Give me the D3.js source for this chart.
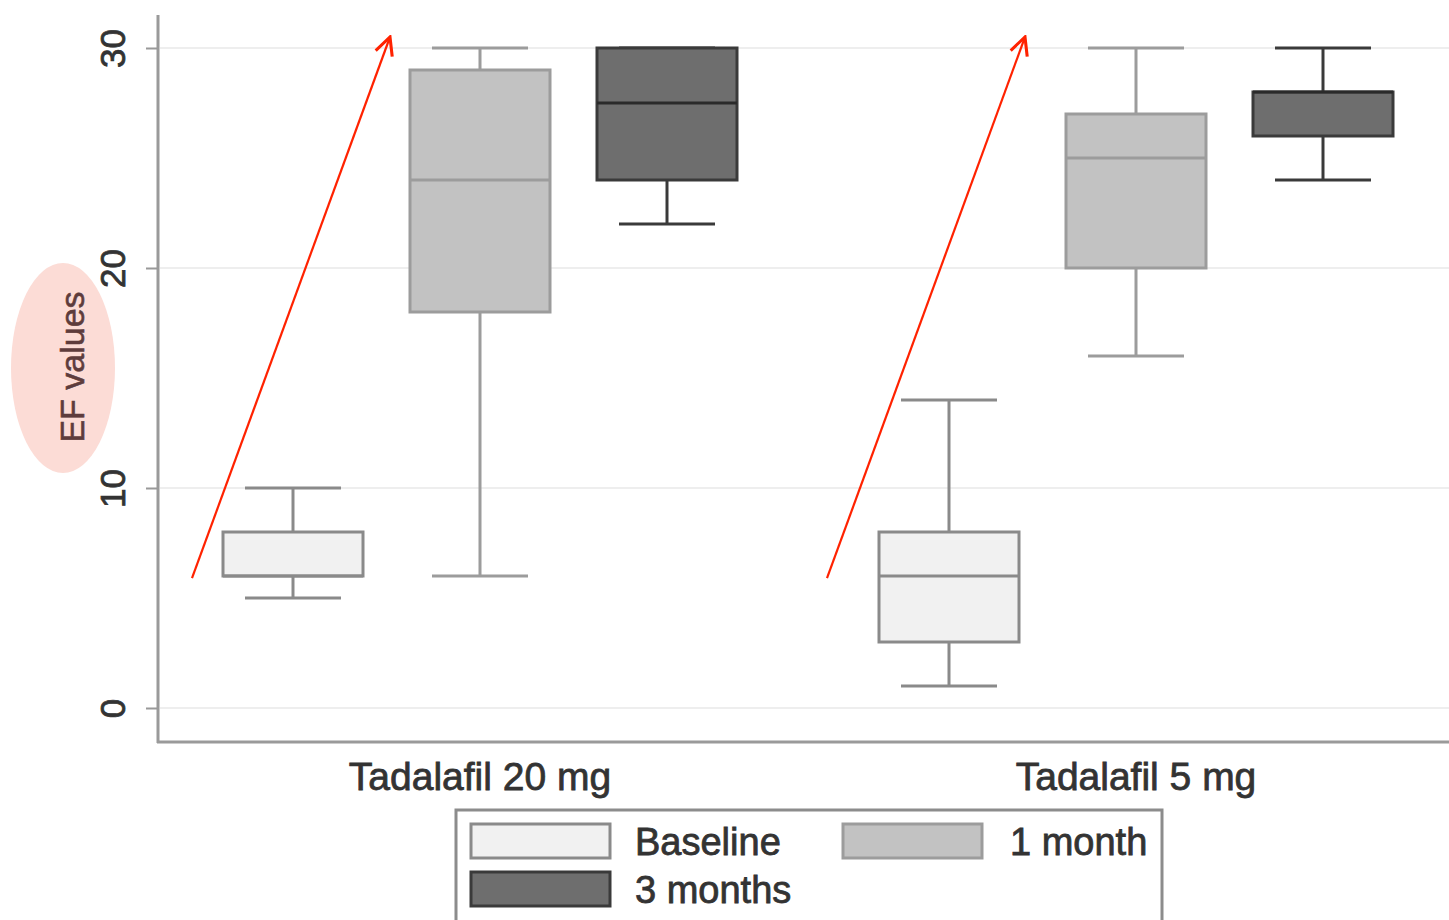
<!DOCTYPE html>
<html>
<head>
<meta charset="utf-8">
<script src="https://cdn.jsdelivr.net/npm/d3@7"></script>
<style>
  body { margin: 0; background: #fff; }
  text { font-family: "Liberation Sans", Arial, sans-serif; }
</style>
</head>
<body>
<script>
// data
var groups = ['Tadalafil 20 mg', 'Tadalafil 5 mg'];
var series = ['Baseline', '1 month', '3 months'];
var yTicks = [0, 10, 20, 30];
// each row: [group, series, low whisker, q1, median, q3, high whisker]
var baseline = [
  ['Tadalafil 20 mg', 'Baseline', 5, 6, 6, 8, 10],
  ['Tadalafil 5 mg', 'Baseline', 1, 3, 6, 8, 14]
];
var oneMonth = [
  ['Tadalafil 20 mg', '1 month', 6, 18, 24, 29, 30],
  ['Tadalafil 5 mg', '1 month', 16, 20, 25, 27, 30]
];
var threeMonths = [
  ['Tadalafil 20 mg', '3 months', 22, 24, 27.5, 30, 30],
  ['Tadalafil 5 mg', '3 months', 24, 26, 28, 28, 30]
];
// red annotation arrows, x as offset inside group band, y in EF units
var arrows = [
  ['Tadalafil 20 mg', 40, 5.9, 238, 30.5],
  ['Tadalafil 5 mg', 19, 5.9, 217, 30.5]
];

var fills = {'Baseline': '#f1f1f1', '1 month': '#c2c2c2', '3 months': '#6e6e6e'};
var strokes = {'Baseline': '#8a8a8a', '1 month': '#9c9c9c', '3 months': '#3a3a3a'};

var W = 1449, H = 920;
var svg = d3.select('body').append('svg')
            .attr('width', W)
            .attr('height', H);

var x = d3.scaleBand().domain(groups).range([152, 1464]).padding(0);
var xs = d3.scalePoint().domain(series).range([-187, 187]);
var y = d3.scaleLinear().domain([0, 30]).range([708, 48]);
var boxW = 140, capW = 96;

// grid
svg.append('g').selectAll('line')
   .data(yTicks)
   .enter().append('line')
   .attr('x1', 160).attr('x2', W)
   .attr('y1', d => y(d)).attr('y2', d => y(d))
   .style('stroke', '#eeeeee')
   .style('stroke-width', 2);

// y axis
var yAxis = svg.append('g')
   .attr('transform', 'translate(158,0)')
   .call(d3.axisLeft(y).tickValues(yTicks).tickSize(12).tickPadding(0));
yAxis.select('.domain').remove();
yAxis.selectAll('.tick line').style('stroke', '#999').style('stroke-width', 2);
yAxis.selectAll('.tick text')
   .attr('transform', 'translate(-45,0) rotate(-90)')
   .attr('x', 0).attr('dy', '0.35em')
   .style('text-anchor', 'middle')
   .style('font-size', '35px')
   .style('fill', '#333')
   .style('stroke', '#333').style('stroke-width', 0.8);

svg.append('line')
   .attr('x1', 158).attr('x2', 158).attr('y1', 15).attr('y2', 743)
   .style('stroke', '#9a9a9a').style('stroke-width', 3);
svg.append('line')
   .attr('x1', 157).attr('x2', W).attr('y1', 742).attr('y2', 742)
   .style('stroke', '#9a9a9a').style('stroke-width', 3);

// x labels
var xAxis = svg.append('g')
   .attr('transform', 'translate(0,742)')
   .call(d3.axisBottom(x).tickSize(0).tickPadding(20));
xAxis.select('.domain').remove();
xAxis.selectAll('.tick text')
   .attr('dy', '0.71em')
   .style('font-size', '39px')
   .style('fill', '#333')
   .style('stroke', '#333').style('stroke-width', 0.8);

// y label with pink highlight
svg.append('ellipse')
   .attr('cx', 63).attr('cy', 368).attr('rx', 52).attr('ry', 105)
   .style('fill', '#fcdcd6');
svg.append('text')
   .attr('transform', 'translate(72,367) rotate(-90)')
   .attr('dy', '0.35em')
   .style('text-anchor', 'middle')
   .style('font-size', '34px')
   .style('fill', '#5e3c3c')
   .style('stroke', '#5e3c3c').style('stroke-width', 0.6)
   .text('EF values');

// boxes
var rows = baseline.concat(oneMonth, threeMonths);
var box = svg.append('g').selectAll('g')
   .data(rows)
   .enter().append('g')
   .attr('transform', d => 'translate(' + (x(d[0]) + x.bandwidth() / 2 + xs(d[1])) + ',0)');

box.append('line')
   .attr('x1', 0).attr('x2', 0)
   .attr('y1', d => y(d[2])).attr('y2', d => y(d[6]))
   .style('stroke', d => strokes[d[1]]).style('stroke-width', 3);
box.selectAll('.cap')
   .data(d => [[d[1], d[2]], [d[1], d[6]]])
   .enter().append('line')
   .attr('class', 'cap')
   .attr('x1', -capW / 2).attr('x2', capW / 2)
   .attr('y1', d => y(d[1])).attr('y2', d => y(d[1]))
   .style('stroke', d => strokes[d[0]]).style('stroke-width', 3);
box.append('rect')
   .attr('x', -boxW / 2).attr('width', boxW)
   .attr('y', d => y(d[5])).attr('height', d => y(d[3]) - y(d[5]))
   .style('fill', d => fills[d[1]])
   .style('stroke', d => strokes[d[1]]).style('stroke-width', 3);
box.append('line')
   .attr('x1', -boxW / 2).attr('x2', boxW / 2)
   .attr('y1', d => y(d[4])).attr('y2', d => y(d[4]))
   .style('stroke', d => d[1] == '3 months' ? '#2a2a2a' : strokes[d[1]])
   .style('stroke-width', 3);

// arrows
svg.append('defs').append('marker')
   .attr('id', 'head')
   .attr('viewBox', '0 0 10 10')
   .attr('refX', 9).attr('refY', 5)
   .attr('markerWidth', 22).attr('markerHeight', 22)
   .attr('markerUnits', 'userSpaceOnUse')
   .attr('orient', 'auto')
   .append('path')
   .attr('d', 'M1,1 L9,5 L1,9')
   .style('fill', 'none').style('stroke', '#ff2200').style('stroke-width', 1.4);

svg.append('g').selectAll('line')
   .data(arrows)
   .enter().append('line')
   .attr('x1', d => x(d[0]) + d[1]).attr('y1', d => y(d[2]))
   .attr('x2', d => x(d[0]) + d[3]).attr('y2', d => y(d[4]))
   .style('stroke', '#ff2200').style('stroke-width', 2.2)
   .attr('marker-end', 'url(#head)');

// legend
var lg = svg.append('g');
lg.append('rect')
  .attr('x', 456).attr('y', 810).attr('width', 706).attr('height', 120)
  .style('fill', '#fff').style('stroke', '#8c8c8c').style('stroke-width', 3);
var legPos = {'Baseline': [471, 824], '1 month': [843, 824], '3 months': [471, 872]};
var item = lg.selectAll('.item')
  .data(series)
  .enter().append('g')
  .attr('class', 'item')
  .attr('transform', d => 'translate(' + legPos[d][0] + ',' + legPos[d][1] + ')');
item.append('rect')
  .attr('width', 139).attr('height', 34)
  .style('fill', d => fills[d])
  .style('stroke', d => strokes[d]).style('stroke-width', 3);
item.append('text')
  .attr('x', d => d == '1 month' ? 167 : 164).attr('y', 31)
  .style('font-size', '38px')
  .style('fill', '#333')
  .style('stroke', '#333').style('stroke-width', 0.8)
  .text(d => d);
</script>
</body>
</html>
